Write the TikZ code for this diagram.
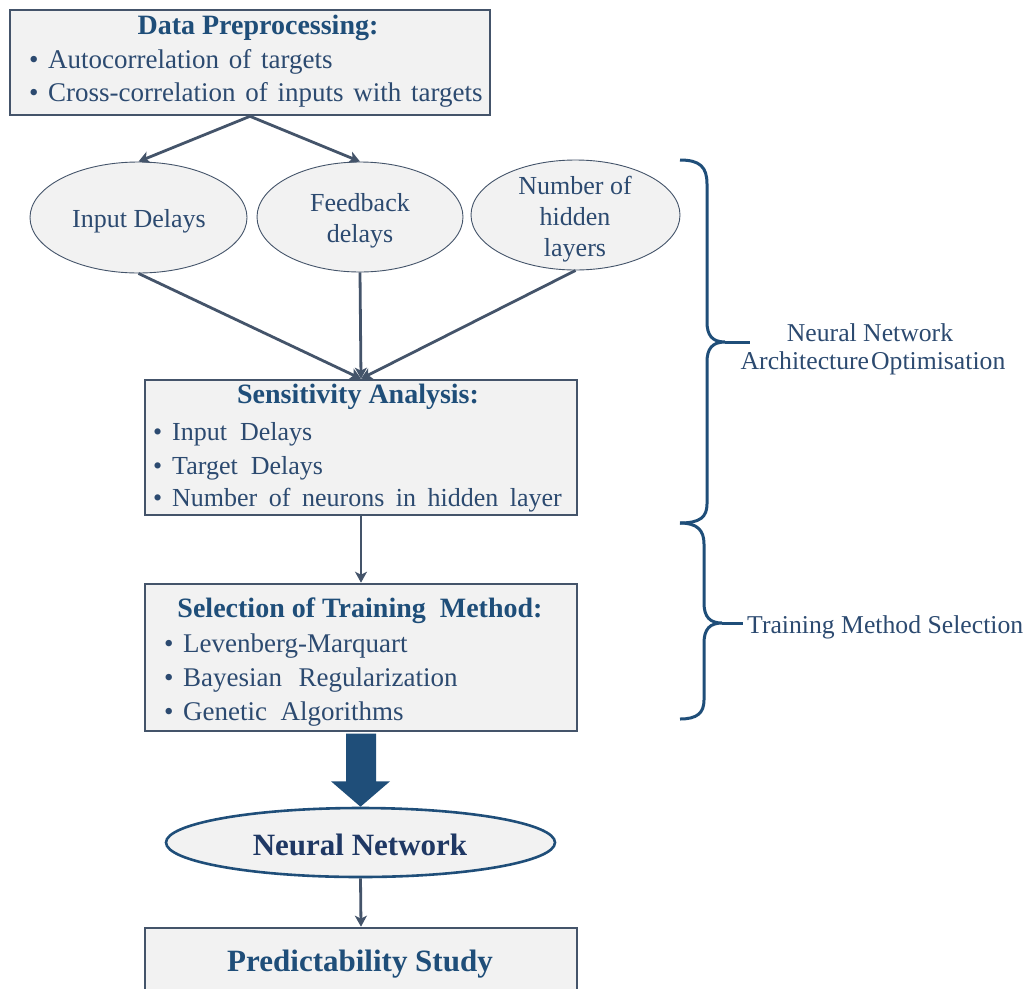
\documentclass[tikz,border=0pt]{standalone}
\usepackage{fontspec}
\setmainfont{Liberation Serif}
\usetikzlibrary{shapes.geometric,arrows.meta,calc}
\definecolor{boxline}{HTML}{44546A}
\definecolor{boxfill}{HTML}{F2F2F2}
\definecolor{titleblue}{HTML}{1F4E79}
\definecolor{bodyblue}{HTML}{2C4A70}
\definecolor{nnblue}{HTML}{1F4E79}
\definecolor{nntext}{HTML}{1F3864}
\newcommand{\bul}[1]{\makebox[19pt][l]{•}#1}
\newcommand{\gp}{\ \hspace{3pt}}
\tikzset{
  procbox/.style={draw=boxline, line width=2.6pt, fill=boxfill, rectangle, inner sep=0pt},
  oval/.style={draw=boxline, line width=0.9pt, fill=boxfill, ellipse, inner sep=0pt},
  ovaltext/.style={inner sep=0pt, text=bodyblue, align=center, font=\fontsize{26}{31}\selectfont},
  titletext/.style={inner sep=0pt, text=titleblue, font=\fontsize{28}{30}\selectfont\bfseries},
  bodytext/.style={inner sep=0pt, anchor=west, text=bodyblue, font=\fontsize{26}{30}\selectfont},
  bigbody/.style={bodytext, font=\fontsize{27}{30}\selectfont},
  conn/.style={draw=boxline, line width=2.8pt, -{Stealth[length=11pt,width=12pt,inset=3pt]}},
  bracestyle/.style={draw=nnblue, line width=3pt},
  bracelabel/.style={inner sep=0pt, text=bodyblue, font=\fontsize{25.7}{30}\selectfont}
}
\begin{document}
\begin{tikzpicture}[x=1pt,y=-1pt]
\clip (0,0) rectangle (1027,988);
\fill[white] (0,0) rectangle (1027,988);

% Data preprocessing box
\node[procbox, minimum width=480pt, minimum height=105pt] (dp) at (250,62.5) {};
\node[titletext] (dpt) at (258,28) {Data Preprocessing:};
\node[bigbody] (dp1) at (29,62) {\bul{Autocorrelation\gp of\gp targets}};
\node[bigbody] (dp2) at (29,95) {\bul{Cross-correlation\gp of\gp inputs\gp with\gp targets}};

% ellipses
\node[oval, minimum width=217pt, minimum height=111pt] (e1) at (138.5,217.5) {};
\node[ovaltext] (e1t) at (139,221) {Input Delays};
\node[oval, minimum width=206pt, minimum height=110pt] (e2) at (360,217) {};
\node[ovaltext] (e2t) at (360,221) {Feedback\\delays};
\node[oval, minimum width=209pt, minimum height=110pt] (e3) at (575.5,215) {};
\node[ovaltext] (e3t) at (575,219) {Number of\\hidden\\layers};

% sensitivity box
\node[procbox, minimum width=432pt, minimum height=135pt] (sa) at (361,447.5) {};
\node[titletext] (sat) at (358,397) {Sensitivity Analysis:};
\node[bodytext] (sa1) at (153,434) {\bul{Input\ \ Delays}};
\node[bodytext] (sa2) at (153,468) {\bul{Target\ \ Delays}};
\node[bodytext] (sa3) at (153,500) {\bul{Number\ \hspace{5pt}of\ \hspace{5pt}neurons\ \hspace{5pt}in\ \hspace{5pt}hidden\ \hspace{5pt}layer}};

% selection box
\node[procbox, minimum width=432pt, minimum height=147pt] (sel) at (361,657.5) {};
\node[titletext] (selt) at (360,611) {Selection of Training\ \ Method:};
\node[bigbody] (sel1) at (164,646) {\bul{Levenberg-Marquart}};
\node[bigbody] (sel2) at (164,680) {\bul{Bayesian\ \ \hspace{3pt}Regularization}};
\node[bigbody] (sel3) at (164,714) {\bul{Genetic\ \ Algorithms}};

% neural network
\node[ellipse, draw=nnblue, line width=2.6pt, fill=boxfill, inner sep=0pt, minimum width=389pt, minimum height=69pt] (nn) at (360.5,842.5) {};
\node[inner sep=0pt, text=nntext, font=\fontsize{31}{34}\selectfont\bfseries] (nnt) at (360,845) {Neural Network};

% predictability
\node[procbox, minimum width=432pt, minimum height=100pt] (ps) at (361,978) {};
\node[titletext, font=\fontsize{31}{34}\selectfont\bfseries] (pst) at (360,964) {Predictability Study};

% connectors
\draw[conn] (dp.south) -- (e1.north);
\draw[conn] (dp.south) -- (e2.north);
\draw[conn] (e1.south) -- (sa.north);
\draw[conn] (e2.south) -- (sa.north);
\draw[conn] (e3.south) -- (sa.north);
\draw[conn] (sa.south) -- (sel.north);
\draw[conn] (nn.south) -- (ps.north);

% big arrow
\fill[nnblue] ($(sel.south)+(-15,1.3)$) -- ($(sel.south)+(15,1.3)$) -- ($(sel.south)+(15,49)$)
  -- ($(sel.south)+(29,49)$) -- (nn.north) -- ($(sel.south)+(-30,49)$) -- ($(sel.south)+(-15,49)$) -- cycle;

% braces
\draw[bracestyle] (680,160) .. controls (700,160) and (707,167) .. (707,184) -- (707,322)
  .. controls (707,335) and (712,342) .. (725,342)
  .. controls (712,342) and (707,349) .. (707,362) -- (707,504)
  .. controls (707,517) and (700,523) .. (680,523);
\draw[bracestyle] (725,342) -- (750,342);
\draw[bracestyle] (680,523) .. controls (697,523) and (704,530) .. (704,544) -- (704,603)
  .. controls (704,617) and (710,623) .. (722,623)
  .. controls (710,623) and (704,629) .. (704,643) -- (704,700)
  .. controls (704,713) and (697,719) .. (680,719);
\draw[bracestyle] (722,623) -- (743,623);

\node[bracelabel] (lab1a) at (870,333) {Neural Network};
\node[bracelabel] (lab1b) at (873,363) {Architecture\hspace{2pt}Optimisation};
\node[bracelabel, anchor=west] (lab2) at (747,627) {Training Method Selection};
\end{tikzpicture}
\end{document}
